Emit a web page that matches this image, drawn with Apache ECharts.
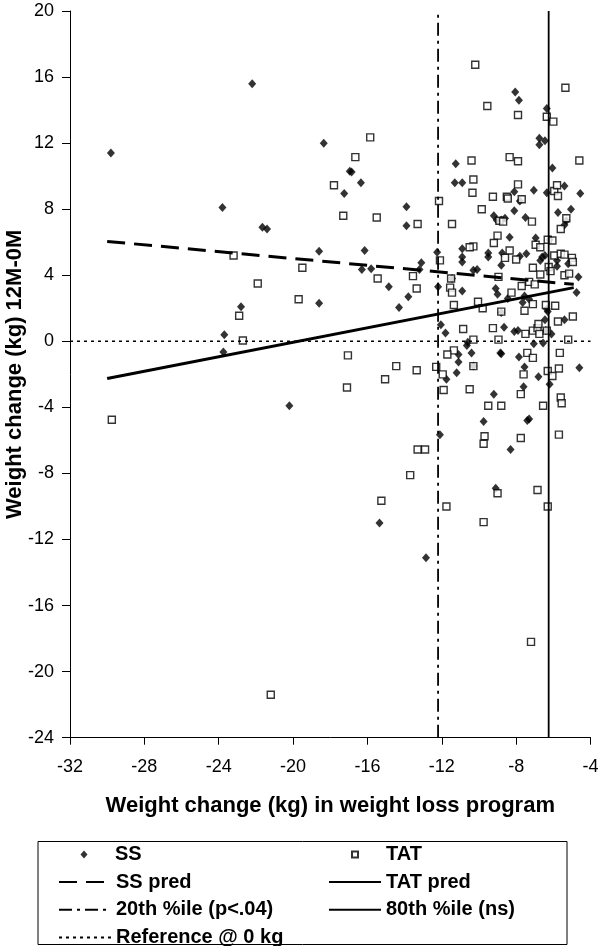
<!DOCTYPE html>
<html><head><meta charset="utf-8">
<script src="https://cdn.jsdelivr.net/npm/echarts@6/dist/echarts.min.js"></script>
<style>html,body{margin:0;padding:0;background:#fff}#c{width:600px;height:946px}</style>
</head><body><div id="c"></div>
<script>
// Axis ranges / ticks
const xMin = -32, xMax = -4, xStep = 4;
const yMin = -24, yMax = 20, yStep = 4;

// SS observations [weight change in program, weight change 12M-0M]
const ssPoints = [
[-29.8,11.4],[-23.8,8.1],[-22.2,15.6],[-21.65,6.9],[-21.4,6.8],[-22.8,2.1],[-23.7,0.4],[-23.75,-0.65],
[-20.2,-3.9],[-18.35,12.0],[-16.95,10.3],[-16.85,10.25],[-16.35,9.6],[-17.25,8.95],[-13.9,8.15],[-13.9,7.0],
[-18.6,5.45],[-16.15,5.5],[-16.3,4.35],[-15.8,4.4],[-14.85,3.3],[-18.6,2.3],[-14.3,2.05],[-13.8,2.7],
[-13.1,4.75],[-13.2,4.35],[-12.25,5.4],[-12.2,3.3],[-12.05,1.0],[-11.8,0.5],[-8.05,15.1],[-7.85,14.6],
[-6.35,14.1],[-6.75,12.3],[-6.45,12.15],[-6.75,11.9],[-11.25,10.75],[-6.05,10.5],[-11.3,9.6],[-10.9,9.6],
[-8.1,9.05],[-7.8,8.5],[-7.05,9.15],[-6.35,9.0],[-5.4,9.4],[-4.55,8.95],[-8.1,7.9],[-5.75,7.8],
[-5.05,8.0],[-9.2,7.6],[-9.05,7.35],[-8.8,7.35],[-8.6,7.45],[-7.5,7.5],[-5.3,7.3],[-5.4,7.05],
[-8.35,6.3],[-6.95,6.25],[-6.2,6.15],[-10.9,5.6],[-10.9,5.1],[-10.9,4.8],[-9.5,5.35],[-9.5,5.1],
[-8.75,5.35],[-7.8,5.15],[-7.45,5.3],[-6.7,4.9],[-6.45,5.2],[-6.6,5.1],[-5.8,4.9],[-5.2,4.7],
[-5.8,4.55],[-8.8,4.6],[-4.65,3.9],[-11.45,3.8],[-10.3,4.3],[-10.1,4.35],[-10.9,3.05],[-9.1,3.2],
[-9.0,2.85],[-7.55,2.75],[-7.65,2.35],[-7.3,2.55],[-8.45,2.6],[-8.8,1.75],[-6.35,1.95],[-6.3,1.8],
[-4.75,2.95],[-6.45,1.3],[-5.4,1.3],[-8.65,0.85],[-8.1,0.6],[-7.9,0.65],[-6.4,0.65],[-6.1,0.45],
[-7.05,-0.15],[-6.55,-0.1],[-10.6,-0.05],[-10.65,-0.25],[-10.4,-0.7],[-11.1,-0.8],[-11.1,-1.25],[-8.85,-0.7],
[-8.8,-0.75],[-7.85,-0.95],[-10.3,-1.5],[-7.55,-1.55],[-4.6,-1.6],[-6.8,-2.15],[-11.75,-2.3],[-11.2,-1.9],
[-9.2,-3.2],[-7.6,-2.75],[-6.2,-2.6],[-9.75,-4.85],[-7.4,-4.8],[-7.3,-4.7],[-12.1,-5.65],[-8.3,-6.55],
[-15.35,-11.0],[-9.1,-8.9],[-12.85,-13.1]
];

// TAT observations
const tatPoints = [
[-23.2,5.2],[-21.9,3.5],[-22.9,1.55],[-22.7,0.05],[-19.7,2.55],[-19.5,4.45],[-29.75,-4.75],[-21.2,-21.4],
[-15.85,12.35],[-16.65,11.15],[-17.8,9.45],[-17.3,7.6],[-15.5,7.5],[-13.3,7.1],[-12.15,8.5],[-15.45,3.8],
[-13.35,3.2],[-13.55,3.95],[-12.1,4.9],[-17.05,-0.85],[-14.45,-1.5],[-13.35,-1.75],[-15.05,-2.3],[-17.1,-2.8],
[-12.3,-1.55],[-10.2,16.75],[-5.35,15.35],[-9.55,14.25],[-7.9,13.7],[-6.35,13.6],[-6.0,13.3],[-10.4,10.95],
[-8.35,11.15],[-7.9,10.9],[-4.6,10.95],[-10.3,9.8],[-10.35,9.0],[-7.9,9.5],[-9.25,8.75],[-8.5,8.75],
[-8.45,8.65],[-7.7,8.6],[-5.95,9.1],[-5.8,9.45],[-5.75,8.8],[-9.85,8.0],[-11.45,7.1],[-8.9,7.3],
[-8.7,7.25],[-7.15,7.25],[-5.3,7.45],[-5.6,6.8],[-9.0,6.4],[-9.2,5.95],[-6.95,5.85],[-6.7,5.7],
[-6.3,6.15],[-6.05,6.1],[-10.3,5.75],[-10.5,5.7],[-8.35,5.5],[-8.6,5.05],[-8.0,4.95],[-5.95,5.2],
[-5.6,5.3],[-5.4,5.25],[-5.0,5.05],[-4.95,4.8],[-6.25,4.5],[-6.15,4.25],[-7.1,4.45],[-6.7,4.05],
[-5.4,4.0],[-5.15,4.1],[-11.5,3.8],[-8.95,3.9],[-11.55,3.25],[-11.45,2.95],[-11.35,2.2],[-8.25,2.95],
[-7.7,3.35],[-7.3,3.6],[-7.0,3.45],[-7.1,2.25],[-10.05,2.4],[-9.8,2.0],[-8.8,1.8],[-7.55,1.85],
[-6.4,2.2],[-5.9,2.15],[-5.75,1.2],[-4.95,1.5],[-10.85,0.75],[-9.25,0.8],[-7.5,0.45],[-7.1,0.65],
[-6.85,0.8],[-6.8,1.05],[-6.75,0.45],[-6.35,0.65],[-5.2,0.1],[-10.3,0.1],[-8.95,0.1],[-11.35,-0.55],
[-11.7,-0.8],[-7.4,-0.7],[-7.1,-1.0],[-5.65,-0.7],[-10.3,-1.5],[-5.7,-1.65],[-6.3,-1.8],[-6.05,-2.1],
[-7.6,-2.0],[-11.95,-2.0],[-11.9,-2.95],[-10.5,-2.9],[-7.75,-3.2],[-5.6,-3.4],[-9.5,-3.9],[-8.8,-3.9],
[-6.55,-3.9],[-5.55,-3.75],[-9.7,-5.75],[-9.75,-6.2],[-7.75,-5.85],[-5.7,-5.65],[-13.3,-6.55],[-12.9,-6.55],
[-13.7,-8.1],[-15.25,-9.65],[-11.75,-10.0],[-9.0,-9.2],[-6.85,-9.0],[-6.3,-10.0],[-9.75,-10.95],[-7.2,-18.2]
];

// Regression (predicted) lines: endpoints
const predX = [-30, -4.9];
const ssPredY = [6.05, 3.45];
const tatPredY = [-2.25, 3.25];

// Reference lines
const pct20 = -12.2;   // 20th percentile
const pct80 = -6.25;   // 80th percentile
const refY = 0;

const names = {
  ss: 'SS', tat: 'TAT', ssPred: 'SS pred', tatPred: 'TAT pred',
  p20: '20th %ile (p<.04)', p80: '80th %ile (ns)', ref: 'Reference @ 0 kg'
};

const FONT = "'Liberation Sans', Arial, Helvetica, sans-serif";
const chart = echarts.init(document.getElementById('c'));

const legendText = { fontFamily: FONT, fontSize: 20, fontWeight: 'bold', color: '#000', lineHeight: 20 };
const legendBase = {
  padding: 0, itemWidth: 52, itemHeight: 14, textStyle: legendText, selectedMode: false,
  orient: 'vertical', itemGap: 7.7, height: 120
};
const lineLegend = Object.assign({}, legendBase, { itemStyle: { color: 'rgba(0,0,0,0)', borderWidth: 0, opacity: 0 } });

// legend icons: symbol centred in a 52-wide box
const ssIcon = 'path://M0,0M52,8M22.5,4L26,0L29.5,4L26,8Z';
const tatIcon = 'path://M0,0M52,7M23,0.5L29,0.5L29,6.5L23,6.5Z';

chart.setOption({
  animation: false,
  backgroundColor: '#fff',
  grid: { left: 70, top: 11, width: 520.5, height: 726.7, containLabel: false, outerBoundsMode: 'none' },
  xAxis: {
    type: 'value', min: xMin, max: xMax, interval: xStep,
    name: 'Weight change (kg) in weight loss program', nameLocation: 'middle', nameGap: 57, nameMoveOverlap: false,
    nameTextStyle: { fontFamily: FONT, fontSize: 22, fontWeight: 'bold', color: '#000' },
    axisLine: { onZero: false, lineStyle: { color: '#000', width: 1 } },
    axisTick: { show: true, length: 7, inside: false, lineStyle: { color: '#000' } },
    axisLabel: { fontFamily: FONT, fontSize: 18, color: '#000', margin: 20, showMaxLabel: true, showMinLabel: true, hideOverlap: false },
    splitLine: { show: false }
  },
  yAxis: {
    type: 'value', min: yMin, max: yMax, interval: yStep,
    name: 'Weight change (kg) 12M-0M', nameLocation: 'middle', nameGap: 44, nameMoveOverlap: false,
    nameTextStyle: { fontFamily: FONT, fontSize: 22, fontWeight: 'bold', color: '#000' },
    axisLine: { show: true, onZero: false, lineStyle: { color: '#000', width: 1 } },
    axisTick: { show: true, length: 8, inside: false, lineStyle: { color: '#000' } },
    axisLabel: { fontFamily: FONT, fontSize: 18, color: '#000', margin: 16, showMaxLabel: true, showMinLabel: true, hideOverlap: false },
    splitLine: { show: false }
  },
  legend: [
    Object.assign({}, legendBase, { left: 58, top: 844.4, itemHeight: 8, data: [{ name: names.ss, icon: ssIcon }] }),
    Object.assign({}, legendBase, { left: 328, top: 844.4, itemHeight: 7, data: [{ name: names.tat, icon: tatIcon }] }),
    Object.assign({}, lineLegend, { left: 58, top: 872, data: [names.ssPred, names.p20, names.ref] }),
    Object.assign({}, lineLegend, { left: 328, top: 872, data: [names.tatPred, names.p80] })
  ],
  graphic: [{
    type: 'rect', left: 35.5, top: 839, silent: true,
    shape: { width: 529, height: 103 },
    style: { fill: 'none', stroke: '#000', lineWidth: 1 }
  }],
  series: [
    {
      name: names.ref, type: 'line', symbol: 'none', silent: true, color: '#000',
      data: [[xMin, refY], [xMax, refY]],
      lineStyle: { color: '#000', width: 1.6, type: [3, 4] }
    },
    {
      name: names.p20, type: 'line', symbol: 'none', silent: true, color: '#000',
      data: [[pct20, yMin], [pct20, yMax]],
      lineStyle: { color: '#000', width: 1.8, type: [13, 5, 3, 5] }
    },
    {
      name: names.p80, type: 'line', symbol: 'none', silent: true, color: '#000',
      data: [[pct80, yMin], [pct80, yMax]],
      lineStyle: { color: '#000', width: 1.8, type: 'solid' }
    },
    {
      name: names.ss, type: 'scatter', symbol: 'diamond', symbolSize: [8, 9],
      itemStyle: { color: '#000' },
      data: ssPoints
    },
    {
      name: names.tat, type: 'scatter', symbol: 'rect', symbolSize: 7,
      itemStyle: { color: '#fff', borderColor: '#000', borderWidth: 1.4 },
      data: tatPoints
    },
    {
      name: names.ssPred, type: 'line', symbol: 'none', silent: true, color: '#000',
      data: predX.map((x, i) => [x, ssPredY[i]]),
      lineStyle: { color: '#000', width: 3, type: [18, 9] }
    },
    {
      name: names.tatPred, type: 'line', symbol: 'none', silent: true, color: '#000',
      data: predX.map((x, i) => [x, tatPredY[i]]),
      lineStyle: { color: '#000', width: 3, type: 'solid' }
    }
  ]
});
</script>
</body></html>
